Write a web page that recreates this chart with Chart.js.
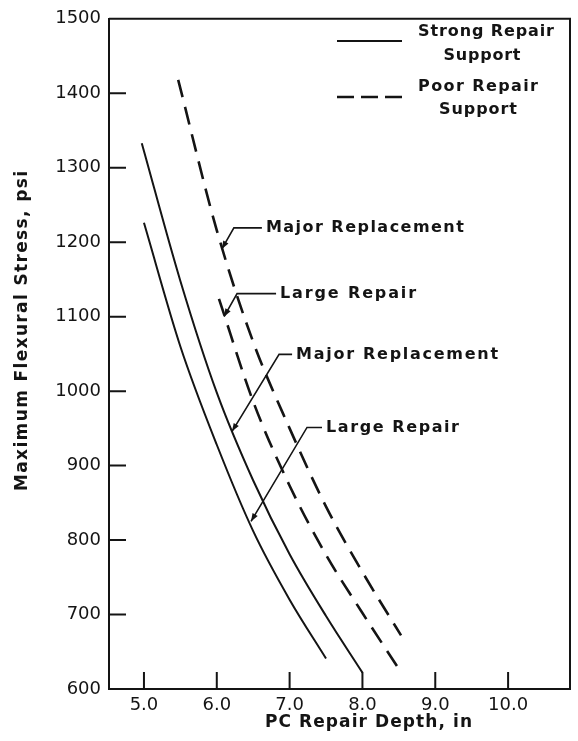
<!DOCTYPE html>
<html>
<head>
<meta charset="utf-8">
<script src="https://cdn.jsdelivr.net/npm/chart.js@4.4.1/dist/chart.umd.min.js"></script>
<style>
  html, body { margin: 0; padding: 0; background: #fff; }
</style>
</head>
<body>
<canvas id="stressChart" width="578" height="741"></canvas>
<script>
  // PC repair depth (in) vs maximum flexural stress (psi)
  const depthTicks = [5, 6, 7, 8, 9, 10];
  const stressTicks = [600, 700, 800, 900, 1000, 1100, 1200, 1300, 1400, 1500];

  // strong repair support (solid)
  const strongLargeDepth = [5.0, 5.5, 6.0, 6.5, 7.0, 7.5];
  const strongLargeStress = [1226, 1060, 928, 812, 720, 641];
  const strongMajorDepth = [4.97, 5.5, 6.0, 6.5, 7.0, 7.5, 8.0];
  const strongMajorStress = [1333, 1148, 998, 880, 781, 698, 622];

  // poor repair support (dashed)
  const poorMajorDepth = [5.47, 6.0, 6.5, 7.0, 7.5, 8.0, 8.53];
  const poorMajorStress = [1418, 1216, 1066, 950, 845, 757, 672];
  const poorLargeDepth = [6.03, 6.5, 7.0, 7.5, 8.0, 8.48];
  const poorLargeStress = [1124, 986, 873, 780, 702, 630];

  const legendNames = [['Strong Repair', 'Support'], ['Poor Repair', 'Support']];

  const ink = '#141414';
  const DASH = [18, 10];

  function pts(xs, ys) {
    return xs.map((x, i) => ({ x: x, y: ys[i] }));
  }

  function curve(label, xs, ys, dashed) {
    return {
      label: label,
      data: pts(xs, ys),
      borderColor: ink,
      borderWidth: dashed ? 2.6 : 2,
      borderDash: dashed ? DASH : [],
      pointRadius: 0,
      fill: false,
      cubicInterpolationMode: 'monotone'
    };
  }

  // text stretched to the width it has in the original figure
  function fitText(ctx, text, x, y, w, align) {
    ctx.letterSpacing = '0px';
    const natural = ctx.measureText(text).width;
    const ls = (w - natural) / (text.length - 1);
    ctx.letterSpacing = ls + 'px';
    let left = x;
    if (align === 'center') left = x - w / 2;
    ctx.textAlign = 'left';
    ctx.fillText(text, left, y);
    ctx.letterSpacing = '0px';
  }

  // callouts: tip in data units, knee / line end as pixel offsets from the tip
  const callouts = [
    { text: 'Major Replacement', tip: [6.07, 1191], knee: [12, -21], end: 40, w: 198 },
    { text: 'Large Repair', tip: [6.10, 1100], knee: [13, -23], end: 52, w: 136 },
    { text: 'Major Replacement', tip: [6.21, 946], knee: [47, -77], end: 60, w: 202 },
    { text: 'Large Repair', tip: [6.47, 825], knee: [56, -94], end: 71, w: 133 }
  ];

  const figurePlugin = {
    id: 'figure',
    afterDraw(chart) {
      const ctx = chart.ctx;
      const a = chart.chartArea;
      const xs = chart.scales.x;
      const ys = chart.scales.y;
      ctx.save();
      ctx.strokeStyle = ink;
      ctx.fillStyle = ink;

      // frame top + right
      ctx.lineWidth = 2;
      ctx.beginPath();
      ctx.moveTo(a.left, a.top);
      ctx.lineTo(a.right, a.top);
      ctx.lineTo(a.right, a.bottom);
      ctx.stroke();

      // inward tick marks
      ctx.beginPath();
      stressTicks.forEach(v => {
        if (v === 600 || v === 1500) return;
        const p = ys.getPixelForValue(v);
        ctx.moveTo(a.left, p);
        ctx.lineTo(a.left + 17, p);
      });
      depthTicks.forEach(v => {
        const p = xs.getPixelForValue(v);
        ctx.moveTo(p, a.bottom);
        ctx.lineTo(p, a.bottom - 17);
      });
      ctx.stroke();

      // legend
      ctx.beginPath();
      ctx.moveTo(337, 41);
      ctx.lineTo(402, 41);
      ctx.stroke();
      ctx.lineWidth = 2.6;
      ctx.setLineDash([17, 7]);
      ctx.beginPath();
      ctx.moveTo(337, 97);
      ctx.lineTo(402, 97);
      ctx.stroke();
      ctx.setLineDash([]);

      ctx.font = 'bold 16px "DejaVu Sans"';
      ctx.textBaseline = 'middle';
      fitText(ctx, legendNames[0][0], 418, 32, 136, 'left');
      fitText(ctx, legendNames[0][1], 482, 56, 77, 'center');
      fitText(ctx, legendNames[1][0], 418, 87, 120, 'left');
      fitText(ctx, legendNames[1][1], 478, 110, 78, 'center');

      // callouts with arrowheads
      callouts.forEach(c => {
        const tx = xs.getPixelForValue(c.tip[0]);
        const ty = ys.getPixelForValue(c.tip[1]);
        const kx = tx + c.knee[0];
        const ky = ty + c.knee[1];
        const ex = tx + c.end;
        ctx.lineWidth = 1.6;
        ctx.beginPath();
        ctx.moveTo(tx, ty);
        ctx.lineTo(kx, ky);
        ctx.lineTo(ex, ky);
        ctx.stroke();
        const ang = Math.atan2(ty - ky, tx - kx);
        ctx.beginPath();
        ctx.moveTo(tx, ty);
        ctx.lineTo(tx - 8 * Math.cos(ang) + 3 * Math.sin(ang), ty - 8 * Math.sin(ang) - 3 * Math.cos(ang));
        ctx.lineTo(tx - 8 * Math.cos(ang) - 3 * Math.sin(ang), ty - 8 * Math.sin(ang) + 3 * Math.cos(ang));
        ctx.closePath();
        ctx.fill();
        fitText(ctx, c.text, ex + 4, ky, c.w, 'left');
      });

      // axis titles
      ctx.font = 'bold 17px "DejaVu Sans"';
      fitText(ctx, 'PC Repair Depth, in', 265, 723, 207, 'left');
      ctx.translate(23, 331);
      ctx.rotate(-Math.PI / 2);
      fitText(ctx, 'Maximum Flexural Stress, psi', 0, 0, 320, 'center');
      ctx.restore();
    }
  };

  new Chart(document.getElementById('stressChart'), {
    type: 'line',
    data: {
      datasets: [
        curve('Strong Repair Support - Large Repair', strongLargeDepth, strongLargeStress, false),
        curve('Strong Repair Support - Major Replacement', strongMajorDepth, strongMajorStress, false),
        curve('Poor Repair Support - Major Replacement', poorMajorDepth, poorMajorStress, true),
        curve('Poor Repair Support - Large Repair', poorLargeDepth, poorLargeStress, true)
      ]
    },
    options: {
      responsive: false,
      animation: false,
      layout: { padding: { top: 16, right: 8, left: 0, bottom: 0 } },
      plugins: { legend: { display: false }, tooltip: { enabled: false } },
      scales: {
        x: {
          type: 'linear',
          min: 4.52,
          max: 10.85,
          afterBuildTicks: s => { s.ticks = depthTicks.map(v => ({ value: v })); },
          afterFit: s => { s.height = 52; },
          grid: { display: false, drawTicks: false },
          border: { display: true, color: ink, width: 2 },
          ticks: {
            color: ink,
            padding: 6,
            maxRotation: 0,
            font: { family: 'DejaVu Sans', size: 18 },
            callback: v => v.toFixed(1)
          }
        },
        y: {
          type: 'linear',
          min: 600,
          max: 1500,
          afterBuildTicks: s => { s.ticks = stressTicks.map(v => ({ value: v })); },
          afterFit: s => { s.width = 109; },
          grid: { display: false, drawTicks: false },
          border: { display: true, color: ink, width: 2 },
          ticks: {
            color: ink,
            padding: 8,
            font: { family: 'DejaVu Sans', size: 18 },
            callback: v => String(v)
          }
        }
      }
    },
    plugins: [figurePlugin]
  });
</script>
</body>
</html>
